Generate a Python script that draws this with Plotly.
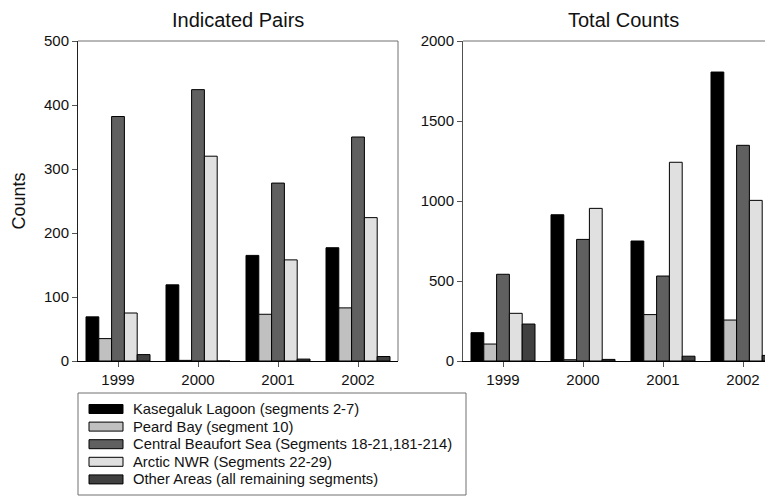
import plotly.graph_objects as go

years = ["1999", "2000", "2001", "2002"]
series_names = [
    "Kasegaluk Lagoon (segments 2-7)",
    "Peard Bay (segment 10)",
    "Central Beaufort Sea (Segments 18-21,181-214)",
    "Arctic NWR (Segments 22-29)",
    "Other Areas (all remaining segments)",
]
colors = ["#000000", "#c0c0c0", "#606060", "#e0e0e0", "#404040"]

pairs_kasegaluk = [69, 119, 165, 177]
pairs_peard = [35, 1, 73, 83]
pairs_central = [382, 424, 278, 350]
pairs_arctic = [75, 320, 158, 224]
pairs_other = [10, 0, 3, 7]

total_kasegaluk = [177, 914, 750, 1806]
total_peard = [106, 8, 290, 256]
total_central = [542, 760, 531, 1348]
total_arctic = [298, 954, 1242, 1004]
total_other = [231, 10, 30, 35]

pairs = [pairs_kasegaluk, pairs_peard, pairs_central, pairs_arctic, pairs_other]
totals = [total_kasegaluk, total_peard, total_central, total_arctic, total_other]

# page body has an 8px margin; figure sized to fit the visible window
OFF = 8
W, H = 773 - OFF, 498 - OFF
FONT = "Liberation Sans, Arial, sans-serif"


def px(xr):
    return (xr - OFF) / W


def py(yr):
    return 1 - (yr - OFF) / H


fig = go.Figure()
for i, name in enumerate(series_names):
    fig.add_trace(go.Bar(x=years, y=pairs[i], name=name, xaxis="x", yaxis="y",
                         marker=dict(color=colors[i], line=dict(color="#000000", width=1)),
                         showlegend=False))
for i, name in enumerate(series_names):
    fig.add_trace(go.Bar(x=years, y=totals[i], name=name, xaxis="x2", yaxis="y2",
                         marker=dict(color=colors[i], line=dict(color="#000000", width=1)),
                         showlegend=False))

axis_common = dict(showgrid=False, zeroline=False, showline=True, ticks="outside",
                   ticklen=5, tickcolor="#555555", tickfont=dict(size=15, color="#111111"))

fig.update_layout(
    width=W, height=H,
    margin=dict(l=0, r=0, t=0, b=0, autoexpand=False),
    paper_bgcolor="white", plot_bgcolor="white",
    font=dict(family=FONT, color="#111111"),
    barmode="group", bargap=0.2, bargroupgap=0,
    xaxis=dict(domain=[px(78), px(398)], range=[-0.5, 3.5], anchor="y",
               linecolor="#000000", type="category", **axis_common),
    yaxis=dict(domain=[py(361), py(41)], range=[0, 500], anchor="x", dtick=100,
               linecolor="#202020", **axis_common),
    xaxis2=dict(domain=[px(463), 1.0], range=[-0.5, 3.375], anchor="y2",
                linecolor="#000000", type="category", **axis_common),
    yaxis2=dict(domain=[py(361), py(41)], range=[0, 2000], anchor="x2", dtick=500,
                linecolor="#505050", **axis_common),
    showlegend=False,
)

# frame lines (top and right) in grey
fig.add_shape(type="line", xref="x domain", yref="y domain", x0=0, x1=1, y0=1, y1=1,
              line=dict(color="#707070", width=1))
fig.add_shape(type="line", xref="x domain", yref="y domain", x0=1, x1=1, y0=0, y1=1,
              line=dict(color="#707070", width=1))
fig.add_shape(type="line", xref="x2 domain", yref="y2 domain", x0=0, x1=1, y0=1, y1=1,
              line=dict(color="#707070", width=1))

fig.add_annotation(text="Indicated Pairs", xref="paper", yref="paper",
                   x=px(238), y=1.0, showarrow=False, borderpad=0,
                   font=dict(size=20, color="#111111"), xanchor="center", yanchor="top")
fig.add_annotation(text="Total Counts", xref="paper", yref="paper",
                   x=px(623), y=1.0, showarrow=False, borderpad=0,
                   font=dict(size=20, color="#111111"), xanchor="center", yanchor="top")
fig.add_annotation(text="Counts", xref="paper", yref="paper",
                   x=px(18.5), y=py(201), showarrow=False, textangle=-90,
                   font=dict(size=18, color="#111111"), xanchor="center", yanchor="middle")

# legend box drawn manually to match the reference's wide swatches
fig.add_shape(type="rect", xref="paper", yref="paper",
              x0=px(78), x1=px(466), y0=py(495), y1=py(393),
              line=dict(color="#707070", width=1), fillcolor="white", layer="below")
row0, row_step = 409, 17.6
for i, name in enumerate(series_names):
    yc = row0 + i * row_step
    fig.add_shape(type="rect", xref="paper", yref="paper",
                  x0=px(89), x1=px(123), y0=py(yc + 4.5), y1=py(yc - 4.5),
                  line=dict(color="#000000", width=1), fillcolor=colors[i])
    fig.add_annotation(text=name, xref="paper", yref="paper",
                       x=px(131), y=py(yc), showarrow=False,
                       xanchor="left", yanchor="middle",
                       font=dict(size=14.8, color="#111111"))

fig.write_html("out.html")
